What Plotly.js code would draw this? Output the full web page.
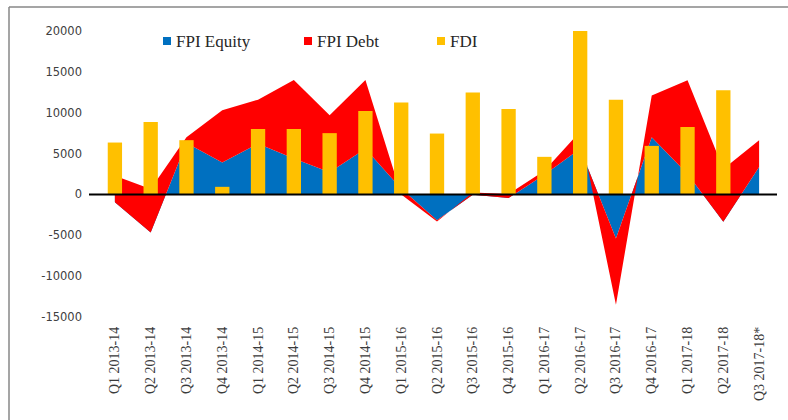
<!DOCTYPE html>
<html>
<head>
<meta charset="utf-8">
<script src="https://cdn.plot.ly/plotly-3.0.1.min.js"></script>
<style>html,body{margin:0;padding:0;background:#fff;}#chart{width:788px;height:420px;}</style>
</head>
<body>
<div id="chart"></div>
<script>
const categories = ['Q1 2013-14','Q2 2013-14','Q3 2013-14','Q4 2013-14','Q1 2014-15','Q2 2014-15','Q3 2014-15','Q4 2014-15','Q1 2015-16','Q2 2015-16','Q3 2015-16','Q4 2015-16','Q1 2016-17','Q2 2016-17','Q3 2016-17','Q4 2016-17','Q1 2017-18','Q2 2017-18','Q3 2017-18*'];
const fpiEquity = [-950, -4650, 6300, 3900, 6200, 4400, 2700, 5600, 700, -3150, -50, -450, 2400, 5600, -5400, 7000, 2500, -3350, 3370];
const fpiDebt = [3250, 5300, 700, 6400, 5400, 9600, 7000, 8400, -700, -150, 300, 500, 500, 2100, -8100, 5100, 11470, 6450, 3270];
const fdi = [6350, 8870, 6640, 930, 8000, 8000, 7500, 10200, 11250, 7450, 12460, 10460, 4600, 20150, 11600, 5940, 8260, 12750, null];
const seriesNames = ['FPI Equity', 'FPI Debt', 'FDI'];
const seriesColors = ['#0070C0', '#FF0000', '#FFC000'];
const yTicks = [-15000, -10000, -5000, 0, 5000, 10000, 15000, 20000];
const yTickText = ['-15000', '-10000', '-5000', '0', '5000', '10000', '15000', '20000'];

// stacked top of debt area (Excel stacked area)
const debtTop = fpiEquity.map((v, i) => v + fpiDebt[i]);

const W = 788, H = 420;
const L = 97, R = 11, T = 31, B = 103;
const pw = W - L - R, ph = H - T - B;
const px = x => (x - L) / pw;
const py = y => (H - B - y) / ph;

const traces = [
  {x: categories, y: fpiEquity, type: 'scatter', mode: 'none', fill: 'tozeroy',
   fillcolor: seriesColors[0], name: seriesNames[0], showlegend: false, hoverinfo: 'skip'},
  {x: categories, y: debtTop, type: 'scatter', mode: 'none', fill: 'tonexty',
   fillcolor: seriesColors[1], name: seriesNames[1], showlegend: false, hoverinfo: 'skip'},
  {x: categories, y: fdi, type: 'bar', xaxis: 'x2', yaxis: 'y2', width: 0.4,
   marker: {color: seriesColors[2], line: {width: 0}}, name: seriesNames[2], showlegend: false}
];

const shapes = [
  // zero axis line
  {type: 'line', xref: 'paper', yref: 'y', x0: px(89), x1: 1, y0: 0, y1: 0,
   line: {color: '#000', width: 2}, layer: 'above'},
  // chart frame
  {type: 'line', xref: 'paper', yref: 'paper', x0: px(9), x1: px(9), y0: py(7), y1: py(430),
   line: {color: '#878787', width: 1.5}},
  {type: 'line', xref: 'paper', yref: 'paper', x0: px(9), x1: px(800), y0: py(7), y1: py(7),
   line: {color: '#878787', width: 1.5}}
];
const annotations = [];
const legendX = [167, 308, 441];
const legendY = 41;
seriesNames.forEach((n, i) => {
  shapes.push({type: 'rect', xref: 'paper', yref: 'paper',
    x0: px(legendX[i] - 4), x1: px(legendX[i] + 4), y0: py(legendY + 4), y1: py(legendY - 4),
    fillcolor: seriesColors[i], line: {width: 0}});
  annotations.push({xref: 'paper', yref: 'paper', x: px(legendX[i] + 7), y: py(legendY),
    xanchor: 'left', yanchor: 'middle', showarrow: false, text: n,
    font: {family: 'Liberation Serif, serif', size: 17, color: '#262626'}});
});

const layout = {
  width: W, height: H, autosize: false,
  margin: {l: L, r: R, t: T, b: B},
  paper_bgcolor: '#fff', plot_bgcolor: '#fff',
  showlegend: false,
  xaxis: {type: 'category', range: [-0.5, 18.5], showgrid: false, zeroline: false, showline: false,
    ticks: '', tickangle: -90, ticklabelstandoff: 6,
    tickfont: {family: 'Liberation Serif, serif', size: 14, color: '#3a3a3a'}},
  yaxis: {range: [-15000, 20000], tickvals: yTicks, ticktext: yTickText, showgrid: false, zeroline: false, showline: false,
    ticks: '', ticklabelstandoff: 14,
    tickfont: {family: 'DejaVu Sans, sans-serif', size: 11.5, color: '#404040'}},
  xaxis2: {type: 'category', overlaying: 'x', matches: 'x', visible: false},
  yaxis2: {overlaying: 'y', matches: 'y', visible: false},
  shapes: shapes,
  annotations: annotations
};

Plotly.newPlot('chart', traces, layout, {staticPlot: true, displayModeBar: false});
</script>
</body>
</html>
